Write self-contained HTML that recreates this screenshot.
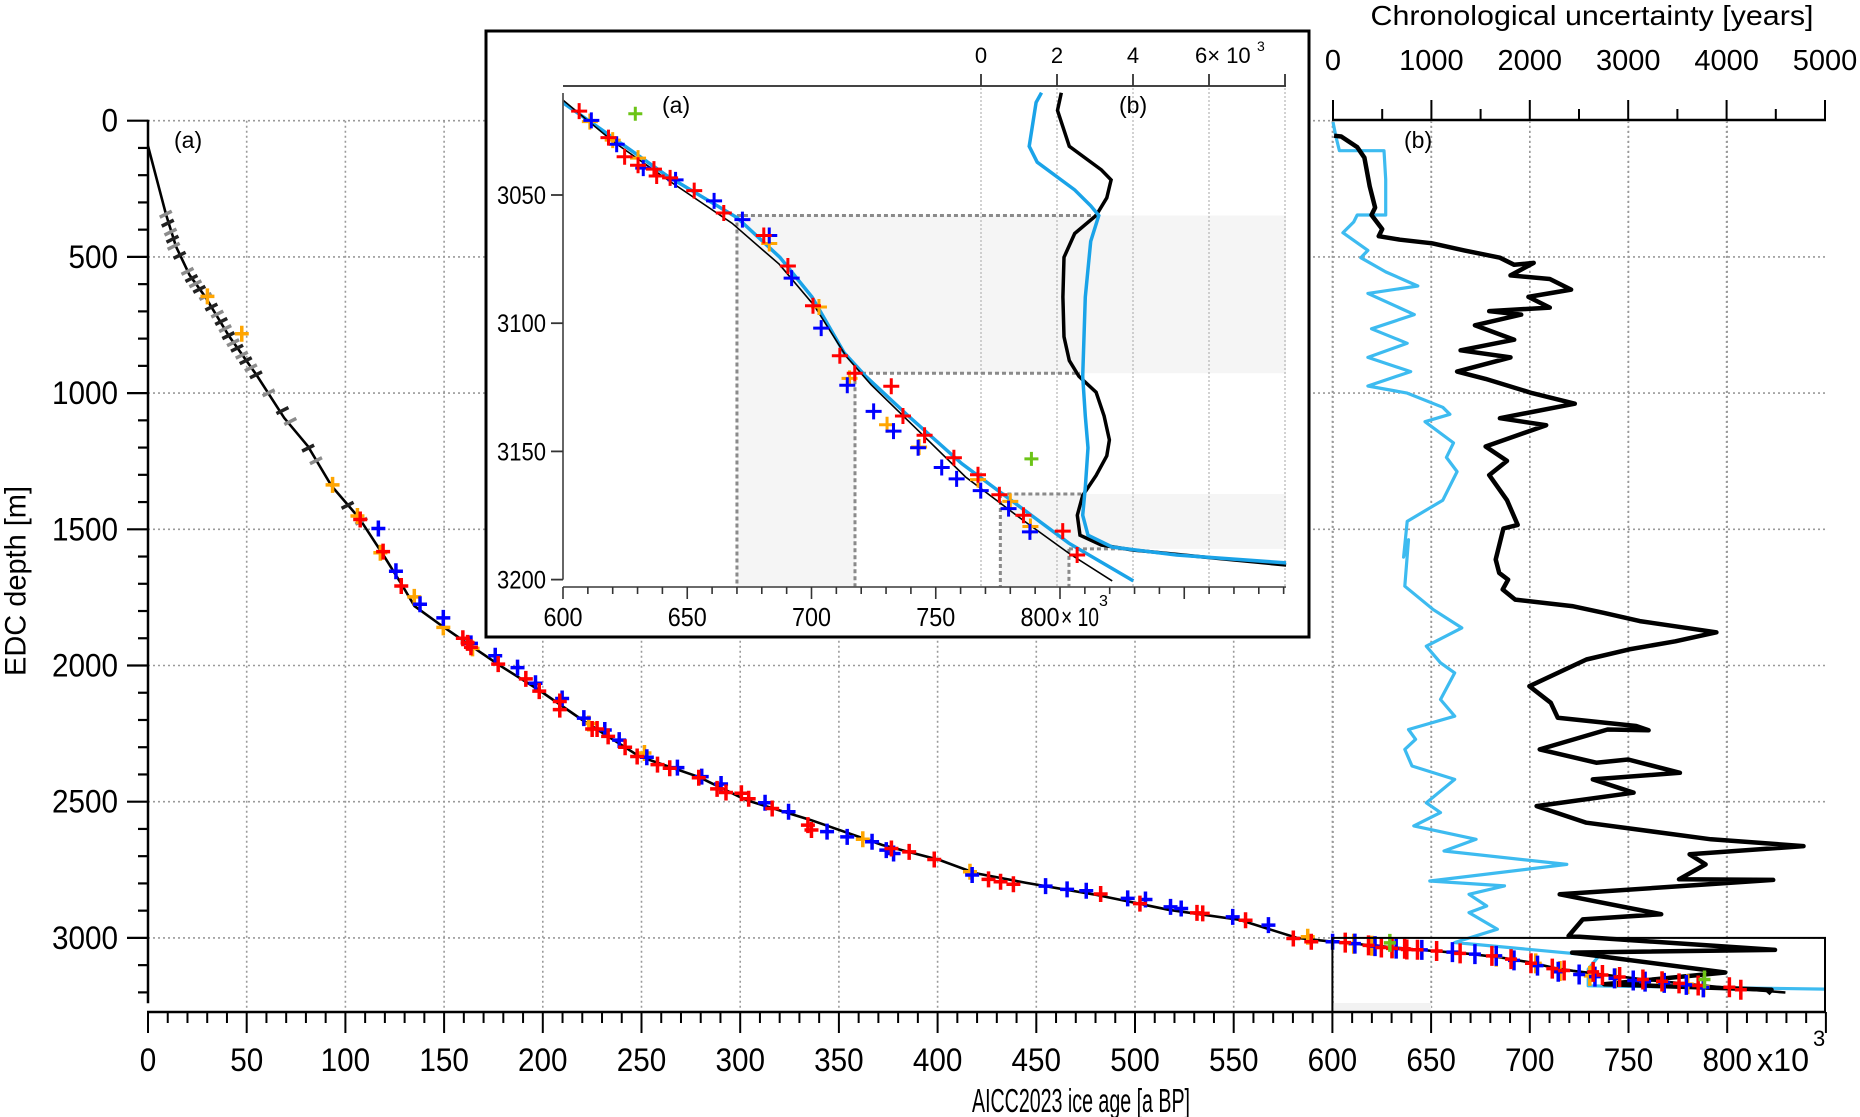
<!DOCTYPE html>
<html><head><meta charset="utf-8"><title>AICC2023 EDC age-depth</title>
<style>
html,body{margin:0;padding:0;background:#fff;}
svg{display:block;font-family:"Liberation Sans",sans-serif;}
</style></head>
<body>
<svg id="fig" width="1860" height="1117" viewBox="0 0 1860 1117" xmlns="http://www.w3.org/2000/svg">
<defs>
<clipPath id="insetClip"><rect x="563" y="88" width="726" height="500"/></clipPath>
<clipPath id="mainClip"><rect x="148" y="110" width="1680" height="900"/></clipPath>
</defs>
<g id="mainGrid"></g>
<g id="mainAxes"></g>
<g id="rightPanel"></g>
<g id="mainSeries" clip-path="url(#mainClip)"></g>
<g id="inset"></g>
<text x="16" y="581" font-size="30" text-anchor="middle" transform="rotate(-90 16 581)" dominant-baseline="central" textLength="190" lengthAdjust="spacingAndGlyphs">EDC depth [m]</text>
<text x="1081" y="1112" font-size="33" text-anchor="middle" textLength="218" lengthAdjust="spacingAndGlyphs">AICC2023 ice age [a BP]</text>
<text x="1592" y="25" font-size="28" text-anchor="middle" textLength="443" lengthAdjust="spacingAndGlyphs">Chronological uncertainty [years]</text>
<text x="174" y="148" font-size="23">(a)</text>
<text x="1404" y="148" font-size="23">(b)</text>
</svg>
<script>
// ---------------- data ----------------
const xTicksMain = [0,50,100,150,200,250,300,350,400,450,500,550,600,650,700,750,800];
const yTicksMain = [0,500,1000,1500,2000,2500,3000];
const topTicks = [0,1000,2000,3000,4000,5000];
const insetYTicks = [3050,3100,3150,3200];
const insetXTicks = [600,650,700,750,800];
const insetTopTicks = [0,2000,4000,6000,8000];

const curveAge = [0,9.1,14.2,21,29,41,55,69,81,93,107,120,129,135,149,163,178,198,220,249,279,303,336,372,401,419,445,481,517,553,582,600,620.5,642,670,687.3,700.2,713.1,721.8,739,760.5,782,803.6,829.5];
const curveDepth = [93,344,462,566,646,790,934,1091,1195,1341,1459,1603,1708,1782,1855,1925,1999,2090,2200,2334,2409,2494,2568,2659,2714,2762,2798,2843,2897,2934,3000,3014,3027.9,3042.6,3058.8,3074.3,3089.8,3111.5,3120.7,3136.2,3154.8,3170.3,3185.8,3200.5];
const oldAge = [600,620,642,668,687,701,714,724,742,762,784,804,821];
const oldDepth = [3013,3029,3044,3061,3077,3093,3113,3124,3141,3160,3176,3190,3200.5];

const grayAge = [9,10,11.4,12.4,13,16,20,22,24,26,29.1,32.1,35.1,37.1,39.1,40.7,43.1,45.1,47.5,49.5,52.1,54.7,61.1,68.1,72.1,81.1,85.1,101.1,108.1];
const grayDepth = [343,376,409,435,461,494,553,579,599,619,645,684,710,737,763,789,815,835,861,881,907,933,999,1064,1104,1202,1248,1412,1470];

const orangeAge = [30.1,47.5,93.5,106.1,117.7,134.9,149.6,164.4,223.3,251.5,362.1,416.4,587.5];
const orangeDepth = [645,782,1337,1451,1586,1748,1860,1937,2213,2321,2638,2757,2996];
const blueAge = [116.7,125.6,137.8,149.6,163.6,175.9,187.2,196.3,209.8,220.8,231.4,238.7,252.7,268.2,280.5,290.3,312.6,324.5,344,354.2,366.8,374,377.7,417.5,454.7,465.6,475.3,496.3,505.3,518,523.4,549.5,567.6,600.1];
const blueDepth = [1497,1654,1775,1825,1919,1964,2008,2065,2121,2193,2237,2274,2337,2375,2408,2435,2504,2537,2610,2629,2647,2678,2690,2769,2810,2822,2827,2855,2859,2886,2892,2923,2953,3014];
const redAge = [107.5,119.1,128.3,159.5,161.9,163.6,177.4,191.4,198.2,208.6,208.6,225,227.5,233.1,241.7,247.8,258.1,264.3,279,288.3,292.8,300.6,304.3,316.2,334.3,336.1,376.6,385.6,398.3,425.8,431.9,438.4,482.6,502.5,531.4,534.3,556,580.2,589.3];
const redDepth = [1464,1582,1708,1900,1917,1933,1995,2049,2094,2132,2162,2233,2233,2260,2300,2334,2364,2377,2412,2453,2466,2469,2489,2525,2586,2604,2672,2684,2712,2785,2794,2803,2839,2874,2908,2910,2935,3002,3014];

const redDeepAge = [606.5,618.3,624.8,630.2,636.6,637.7,643.1,652.8,664.7,680.8,690.5,700.6,711.4,717.4,732.1,736.8,745.5,757.3,767,775.6,785.3,801.1,806.9];
const redDeepDepth = [3017.3,3027.6,3035.1,3038.4,3039.9,3042.6,3043.3,3048.3,3057,3065.8,3077.7,3093.2,3112.7,3119.5,3124.6,3136.2,3143.7,3152.5,3159.1,3166.9,3174.9,3181.1,3190.4];
const blueDeepAge = [611.4,621.6,632.3,645.3,660.8,672.2,683,692,703.9,714.4,725,733,742.9,752.4,758.4,768.1,779.3,787.9];
const blueDeepDepth = [3020.9,3030.2,3039.5,3044.1,3052.3,3059.6,3065.8,3082.4,3101.9,3124.2,3134.4,3142.1,3148.6,3156.3,3160.7,3165.3,3172.3,3181.4];
const orangeDeepAge = [610.8,620,630.2,683,703,715.3,730.4,743.3,767,780,788.1];
const orangeDeepDepth = [3021.4,3028.6,3035.6,3068.9,3093.7,3121.5,3139.6,3148.3,3161,3169.5,3179.3];
const greenAge = [629.1,788.5];
const greenDepth = [3018.3,3152.9];

const uncBlackYears = [11,83,246,319,373,428,391,500,464,681,1007,1333,1696,1841,2040,1804,2203,2420,1986,2203,1587,1913,1442,1841,1297,1804,1261,1551,2022,2457,1696,2167,1551,1768,1587,1768,1877,1732,1660,1653,1689,1779,1725,1852,2430,2755,3118,3896,3480,3009,2575,1996,2213,2285,3081,3207,2791,2101,2676,3000,3525,2640,3055,2069,2575,3841,4781,3624,3787,3516,4474,2304,3335,2539,2394,4492,2430,3986,2756,4456,4420];
const uncBlackDepth = [55,58,97,136,241,319,346,398,424,437,450,476,503,529,522,568,581,620,647,686,699,712,751,804,843,869,921,948,1000,1039,1092,1118,1196,1249,1301,1393,1484,1497,1602,1611,1660,1685,1721,1758,1782,1807,1837,1878,1911,1941,1978,2076,2137,2192,2222,2238,2235,2308,2357,2345,2394,2418,2467,2516,2577,2638,2663,2693,2730,2785,2787,2840,2913,2932,2993,3044,3054,3127,3170,3190,3205];
const uncBlueYears = [0,29,65,518,536,536,246,210,101,355,283,536,862,355,826,391,754,355,790,355,754,1116,1188,935,1225,1152,1261,1116,754,717,767,730,1020,1309,948,1092,1237,1092,1237,767,839,730,803,1237,948,1092,821,1454,1128,2376,984,1743,1382,1562,1382,1671,1237,2702,2593,2593,5000];
const uncBlueDepth = [5,58,110,110,215,346,346,372,411,476,503,555,607,634,712,764,817,869,921,974,1000,1052,1078,1105,1183,1236,1288,1393,1471,1602,1538,1709,1795,1862,1929,1990,2027,2125,2186,2235,2271,2308,2369,2418,2504,2540,2589,2638,2681,2730,2791,2809,2840,2883,2907,2968,3017,3066,3115,3176,3188];

const insBlackYears = [2113,2014,2324,3169,3423,3310,3028,2465,2183,2155,2183,2324,2577,3028,3239,3380,3310,3028,2676,2535,2606,3169,4014,5845,8028];
const insBlackDepth = [3010.1,3017,3031,3040.2,3044.1,3051.1,3058,3065,3074.3,3089.8,3105.3,3114.6,3120.7,3126.9,3136.2,3145.5,3151.7,3159.4,3167.2,3174.9,3182.7,3186.5,3188.5,3191.2,3194.3];
const insBlueYears = [1592,1451,1268,1479,1972,2465,2887,3099,2887,2746,2676,2746,2817,2746,2676,2817,3451,5141,8028];
const insBlueDepth = [3010.1,3013.9,3031,3037.2,3042.6,3048,3054.2,3058,3068.1,3089.8,3120.7,3136.2,3148.6,3164.1,3174.9,3182.7,3187.3,3190.4,3193.5];

const bandAge = [670,717.5,776,803.6];
const bandDepth = [3058,3119.5,3166.6,3188];
const bandHitYears = [3100,2600,2700,4000];

// ---------------- scales ----------------
const X=a=>148+a*1.974, Y=d=>120.7+d*0.2724, U=y=>1333+y*0.0984;
const IX=a=>563+(a-600)*2.485, IY=d=>195+(d-3050)*2.564, IU=y=>981+y*0.038;
const NS='http://www.w3.org/2000/svg';
function mk(tag,attrs,parent){const e=document.createElementNS(NS,tag);for(const k in attrs)e.setAttribute(k,attrs[k]);parent.appendChild(e);return e;}
function g(id){return document.getElementById(id);}
function poly(xs,ys,fx,fy){return xs.map((v,i)=>(i?'L':'M')+fx(v).toFixed(1)+' '+fy(ys[i]).toFixed(1)).join(' ');}
function cross(x,y,h,v){return 'M'+(x-h)+' '+y+'h'+(2*h)+'M'+x+' '+(y-v)+'v'+(2*v);}

const grid=g('mainGrid'), axes=g('mainAxes'), rp=g('rightPanel'), ms=g('mainSeries'), ins=g('inset');

for(let a=50;a<=800;a+=50){
  const l=mk('line',{x1:X(a),x2:X(a),y1:Y(0),y2:1010,stroke:'#9a9a9a','stroke-width':1.6,'stroke-dasharray':'2 3'},grid);
  
  
}
yTicksMain.forEach(d=>{
  const l=mk('line',{x1:148,x2:(d===0?1333:1825),y1:Y(d),y2:Y(d),stroke:'#9a9a9a','stroke-width':1.6,'stroke-dasharray':'2 3'},grid);
  
  
});

let e=mk('line',{x1:148,x2:148,y1:Y(0)-1,y2:Y(3240),stroke:'#000','stroke-width':2.5},axes);


for(let d=0;d<=3200;d+=100){
  const major=d%500===0;
  const t=mk('line',{x1:major?127:138,x2:148,y1:Y(d),y2:Y(d),stroke:'#000','stroke-width':2.2},axes);
  
  
}
yTicksMain.forEach(d=>{
  const s=String(d);
  const t=mk('text',{x:118,y:Y(d)+11,'font-size':32,'text-anchor':'end',textLength:16.5*s.length,lengthAdjust:'spacingAndGlyphs'},axes);
  t.textContent=s;
  
  
});
e=mk('line',{x1:147,x2:1826,y1:1012,y2:1012,stroke:'#000','stroke-width':2.5},axes);


for(let a=0;a<=850;a+=10){
  const major=a%50===0;
  const t=mk('line',{x1:X(a),x2:X(a),y1:1012,y2:major?1033:1023,stroke:'#000','stroke-width':2},axes);
  
  
}
xTicksMain.forEach(a=>{
  const s=String(a);
  const t=mk('text',{x:X(a),y:1071,'font-size':32,'text-anchor':'middle',textLength:16.5*s.length,lengthAdjust:'spacingAndGlyphs'},axes);
  t.textContent=s;
  
  
});
e=mk('text',{x:1757,y:1071,'font-size':32,textLength:52,lengthAdjust:'spacingAndGlyphs'},axes);
e.textContent='x10';


e=mk('text',{x:1813,y:1046,'font-size':22},axes);
e.textContent='3';



e=mk('line',{x1:1332,x2:1826,y1:120,y2:120,stroke:'#000','stroke-width':2.5},rp);


for(let y=0;y<=5000;y+=500){
  const major=y%1000===0;
  const t=mk('line',{x1:U(y),x2:U(y),y1:120,y2:major?100:109,stroke:'#000','stroke-width':2},rp);
  
  
}
topTicks.forEach(y=>{
  const t=mk('text',{x:U(y),y:70,'font-size':29,'text-anchor':'middle'},rp);
  t.textContent=String(y);
  
  
});
for(let y=0;y<=4000;y+=1000){
  const l=mk('line',{x1:U(y),x2:U(y),y1:121,y2:1010,stroke:'#9a9a9a','stroke-width':1.6,'stroke-dasharray':'2 3'},rp);
  
  
}
e=mk('path',{d:poly(uncBlueYears,uncBlueDepth,U,Y),fill:'none',stroke:'#3dbbf0','stroke-width':3.2,'stroke-linejoin':'round'},rp);


e=mk('path',{d:poly(uncBlackYears,uncBlackDepth,U,Y),fill:'none',stroke:'#000','stroke-width':4.5,'stroke-linejoin':'round'},rp);



e=mk('rect',{x:X(600),y:1003,width:X(650)-X(600),height:8,fill:'#f2f2f2'},ms);


e=mk('path',{d:poly(curveAge,curveDepth,X,Y),fill:'none',stroke:'#000','stroke-width':2.6},ms);


grayAge.forEach((a,i)=>{
  const x=X(a),y=Y(grayDepth[i]);
  const m=mk('line',{x1:x-6,y1:y+3,x2:x+6,y2:y-3,stroke:i%2?'#222':'#8c8c8c','stroke-width':3.5},ms);
  
  
});
function markers(ages,depths,color,name,parent,fx,fy,h,v,w){
  ages.forEach((a,i)=>{
    const m=mk('path',{d:cross(fx(a),fy(depths[i]),h,v),stroke:color,'stroke-width':w||3.5,fill:'none'},parent);
    
    
  });
}
markers(orangeAge,orangeDepth,'#ffa500','orange-tiepoint',ms,X,Y,7,8);
markers(orangeDeepAge,orangeDeepDepth,'#ffa500','orange-tiepoint',ms,X,Y,6,10);
markers(blueAge,blueDepth,'#0000ff','blue-tiepoint',ms,X,Y,7,8);
markers(blueDeepAge,blueDeepDepth,'#0000ff','blue-tiepoint',ms,X,Y,6,10);
markers(redAge,redDepth,'#ff0000','red-tiepoint',ms,X,Y,7,8);
markers(redDeepAge,redDeepDepth,'#ff0000','red-tiepoint',ms,X,Y,6,10);
markers(greenAge,greenDepth,'#6cc417','green-tiepoint',ms,X,Y,6,9);
e=mk('rect',{x:X(600),y:Y(3000),width:1825-X(600),height:1012-Y(3000),fill:'none',stroke:'#000','stroke-width':2},axes.parentNode);



// ---------------- inset ----------------
e=mk('rect',{x:486,y:31,width:823,height:606,fill:'#fff',stroke:'#000','stroke-width':3},ins);


const iplot=mk('g',{'clip-path':'url(#insetClip)'},ins);


const R=1286, B=587;
[[0,1],[2,3]].forEach(([p,q])=>{
  let r=mk('rect',{x:IX(bandAge[p]),y:IY(bandDepth[p]),width:R-IX(bandAge[p]),height:IY(bandDepth[q])-IY(bandDepth[p]),fill:'#f5f5f5'},iplot);
  
  
  r=mk('rect',{x:IX(bandAge[p]),y:IY(bandDepth[p]),width:IX(bandAge[q])-IX(bandAge[p]),height:B-IY(bandDepth[p]),fill:'#f5f5f5'},iplot);
  
  
});
insetTopTicks.forEach(y=>{
  const l=mk('line',{x1:IU(y),x2:IU(y),y1:88,y2:B,stroke:'#b5b5b5','stroke-width':1.2,'stroke-dasharray':'2 2'},iplot);
  
  
});
bandAge.forEach((a,i)=>{
  const d=bandDepth[i];
  let l=mk('line',{x1:IX(a),x2:IU(bandHitYears[i]),y1:IY(d),y2:IY(d),stroke:'#8a8a8a','stroke-width':3,'stroke-dasharray':'4 3'},iplot);
  
  
  l=mk('line',{x1:IX(a),x2:IX(a),y1:IY(d),y2:B,stroke:'#8a8a8a','stroke-width':3,'stroke-dasharray':'4 3'},iplot);
  
  
});
e=mk('path',{d:poly(insBlackYears,insBlackDepth,IU,IY),fill:'none',stroke:'#000','stroke-width':3.5},iplot);


e=mk('path',{d:poly(insBlueYears,insBlueDepth,IU,IY),fill:'none',stroke:'#1aa3e8','stroke-width':3.5},iplot);


e=mk('path',{d:poly(curveAge.slice(31),curveDepth.slice(31),IX,IY),fill:'none',stroke:'#1aa3e8','stroke-width':3.5},iplot);


e=mk('path',{d:poly(oldAge,oldDepth,IX,IY),fill:'none',stroke:'#000','stroke-width':1.6},iplot);


markers(orangeDeepAge,orangeDeepDepth,'#ffa500','inset-orange-tiepoint',iplot,IX,IY,8,8,3);
markers(blueDeepAge,blueDeepDepth,'#0000ff','inset-blue-tiepoint',iplot,IX,IY,8,8,3);
markers(redDeepAge,redDeepDepth,'#ff0000','inset-red-tiepoint',iplot,IX,IY,8,8,3);
markers(greenAge,greenDepth,'#6cc417','inset-green-tiepoint',iplot,IX,IY,7,7,3);
e=mk('line',{x1:563,x2:563,y1:93,y2:IY(3200),stroke:'#555','stroke-width':1.8},ins);


insetYTicks.forEach(d=>{
  const t=mk('line',{x1:551,x2:563,y1:IY(d),y2:IY(d),stroke:'#333','stroke-width':1.8},ins);
  
  
  const s=mk('text',{x:546,y:IY(d)+9,'font-size':25,'text-anchor':'end',textLength:49,lengthAdjust:'spacingAndGlyphs'},ins);
  s.textContent=String(d);
  
  
});
e=mk('line',{x1:563,x2:R,y1:B,y2:B,stroke:'#555','stroke-width':1.8},ins);


for(let a=600;a<=890;a+=10){
  const t=mk('line',{x1:IX(a),x2:IX(a),y1:B,y2:B+(a%50===0?12:7),stroke:'#333','stroke-width':1.6},ins);
  
  
}
insetXTicks.forEach(a=>{
  const s=mk('text',{x:IX(a)-(a===800?20:0),y:626,'font-size':26,'text-anchor':'middle',textLength:39,lengthAdjust:'spacingAndGlyphs'},ins);
  s.textContent=String(a);
  
  
});
e=mk('text',{x:1061,y:626,'font-size':26,textLength:38,lengthAdjust:'spacingAndGlyphs'},ins);
e.textContent='× 10';


e=mk('text',{x:1099,y:606,'font-size':16},ins);
e.textContent='3';


e=mk('line',{x1:563,x2:R,y1:86,y2:86,stroke:'#444','stroke-width':2},ins);


insetTopTicks.forEach(y=>{
  const t=mk('line',{x1:IU(y),x2:IU(y),y1:86,y2:74,stroke:'#333','stroke-width':1.8},ins);
  
  
});
[0,2,4].forEach(v=>{
  const s=mk('text',{x:IU(v*1000),y:63,'font-size':22,'text-anchor':'middle'},ins);
  s.textContent=String(v);
  
  
});
e=mk('text',{x:IU(6000)-14,y:63,'font-size':22,'text-anchor':'start'},ins);
e.textContent='6× 10';


e=mk('text',{x:IU(6000)+48,y:51,'font-size':14},ins);
e.textContent='3';


e=mk('text',{x:662,y:113,'font-size':23},ins);
e.textContent='(a)';


e=mk('text',{x:1119,y:113,'font-size':23},ins);
e.textContent='(b)';


</script>
</body></html>
